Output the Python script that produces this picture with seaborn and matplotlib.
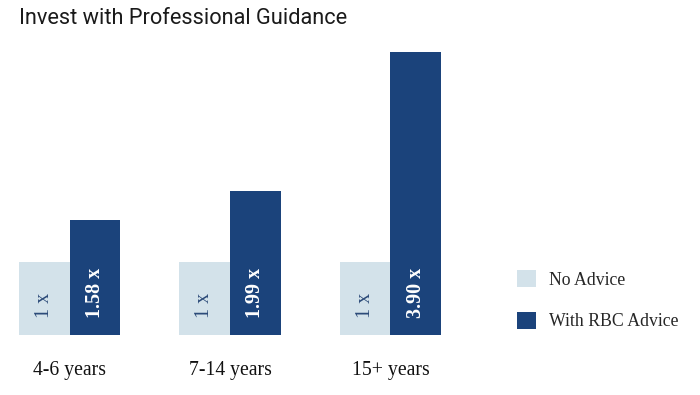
import numpy as np
import pandas as pd
import matplotlib
matplotlib.use("Agg")
import matplotlib.pyplot as plt
import seaborn as sns

periods = ["4-6 years", "7-14 years", "15+ years"]
no_advice = [1.0, 1.0, 1.0]
with_advice = [1.58, 1.99, 3.90]
series = ["No Advice", "With RBC Advice"]
colors = ["#d3e2ea", "#1b437b"]

df = pd.DataFrame({
    "period": periods * 2,
    "value": no_advice + with_advice,
    "series": [series[0]] * 3 + [series[1]] * 3,
})

sns.set_theme(style="white")

fig = plt.figure(figsize=(7, 3.95), dpi=100)
W, H = 700, 395
ax = fig.add_axes([19 / W, (395 - 335) / H, (441 - 19) / W, (335 - 52) / H])

sns.barplot(data=df, x="period", y="value", hue="series", palette=colors,
            saturation=1, width=0.63, gap=0, linewidth=0, ax=ax)

ax.set_xlim(-0.315, 2.315)
ax.set_ylim(0, 3.9)
sns.despine(ax=ax, left=True, bottom=True)
ax.set_yticks([])
ax.set_xlabel("")
ax.set_ylabel("")
ax.tick_params(axis="x", length=0, pad=19)
for t in ax.get_xticklabels():
    t.set_fontfamily("Liberation Serif")
    t.set_fontsize(14.2)
    t.set_color("#111111")

# value labels inside bars
for cont, vals, col, wt in zip(ax.containers, [no_advice, with_advice],
                               ["#2b4a78", "white"], ["normal", "bold"]):
    for rect, v in zip(cont, vals):
        txt = "1 x" if v == 1 else f"{v:.2f} x"
        ax.text(rect.get_x() + rect.get_width() / 2, 0.23, txt, rotation=90,
                ha="center", va="bottom", color=col, fontsize=14.5,
                fontweight=wt, family="Liberation Serif")

handles, labels = ax.get_legend_handles_labels()
ax.get_legend().remove()
fs = 12.8
fig.legend(handles, labels, loc="upper left",
           bbox_to_anchor=(501 / W, 1 - 254 / H),
           frameon=False, prop={"family": "Liberation Serif", "size": fs},
           handlelength=1.07, handleheight=1.12, labelspacing=1.3,
           handletextpad=0.75)

fig.text(19 / W, 1 - 18 / H, "Invest with Professional Guidance", fontsize=15.7,
         family="Roboto", color="#1a1a1a", va="center", ha="left")

fig.savefig("out.png", dpi=100)
